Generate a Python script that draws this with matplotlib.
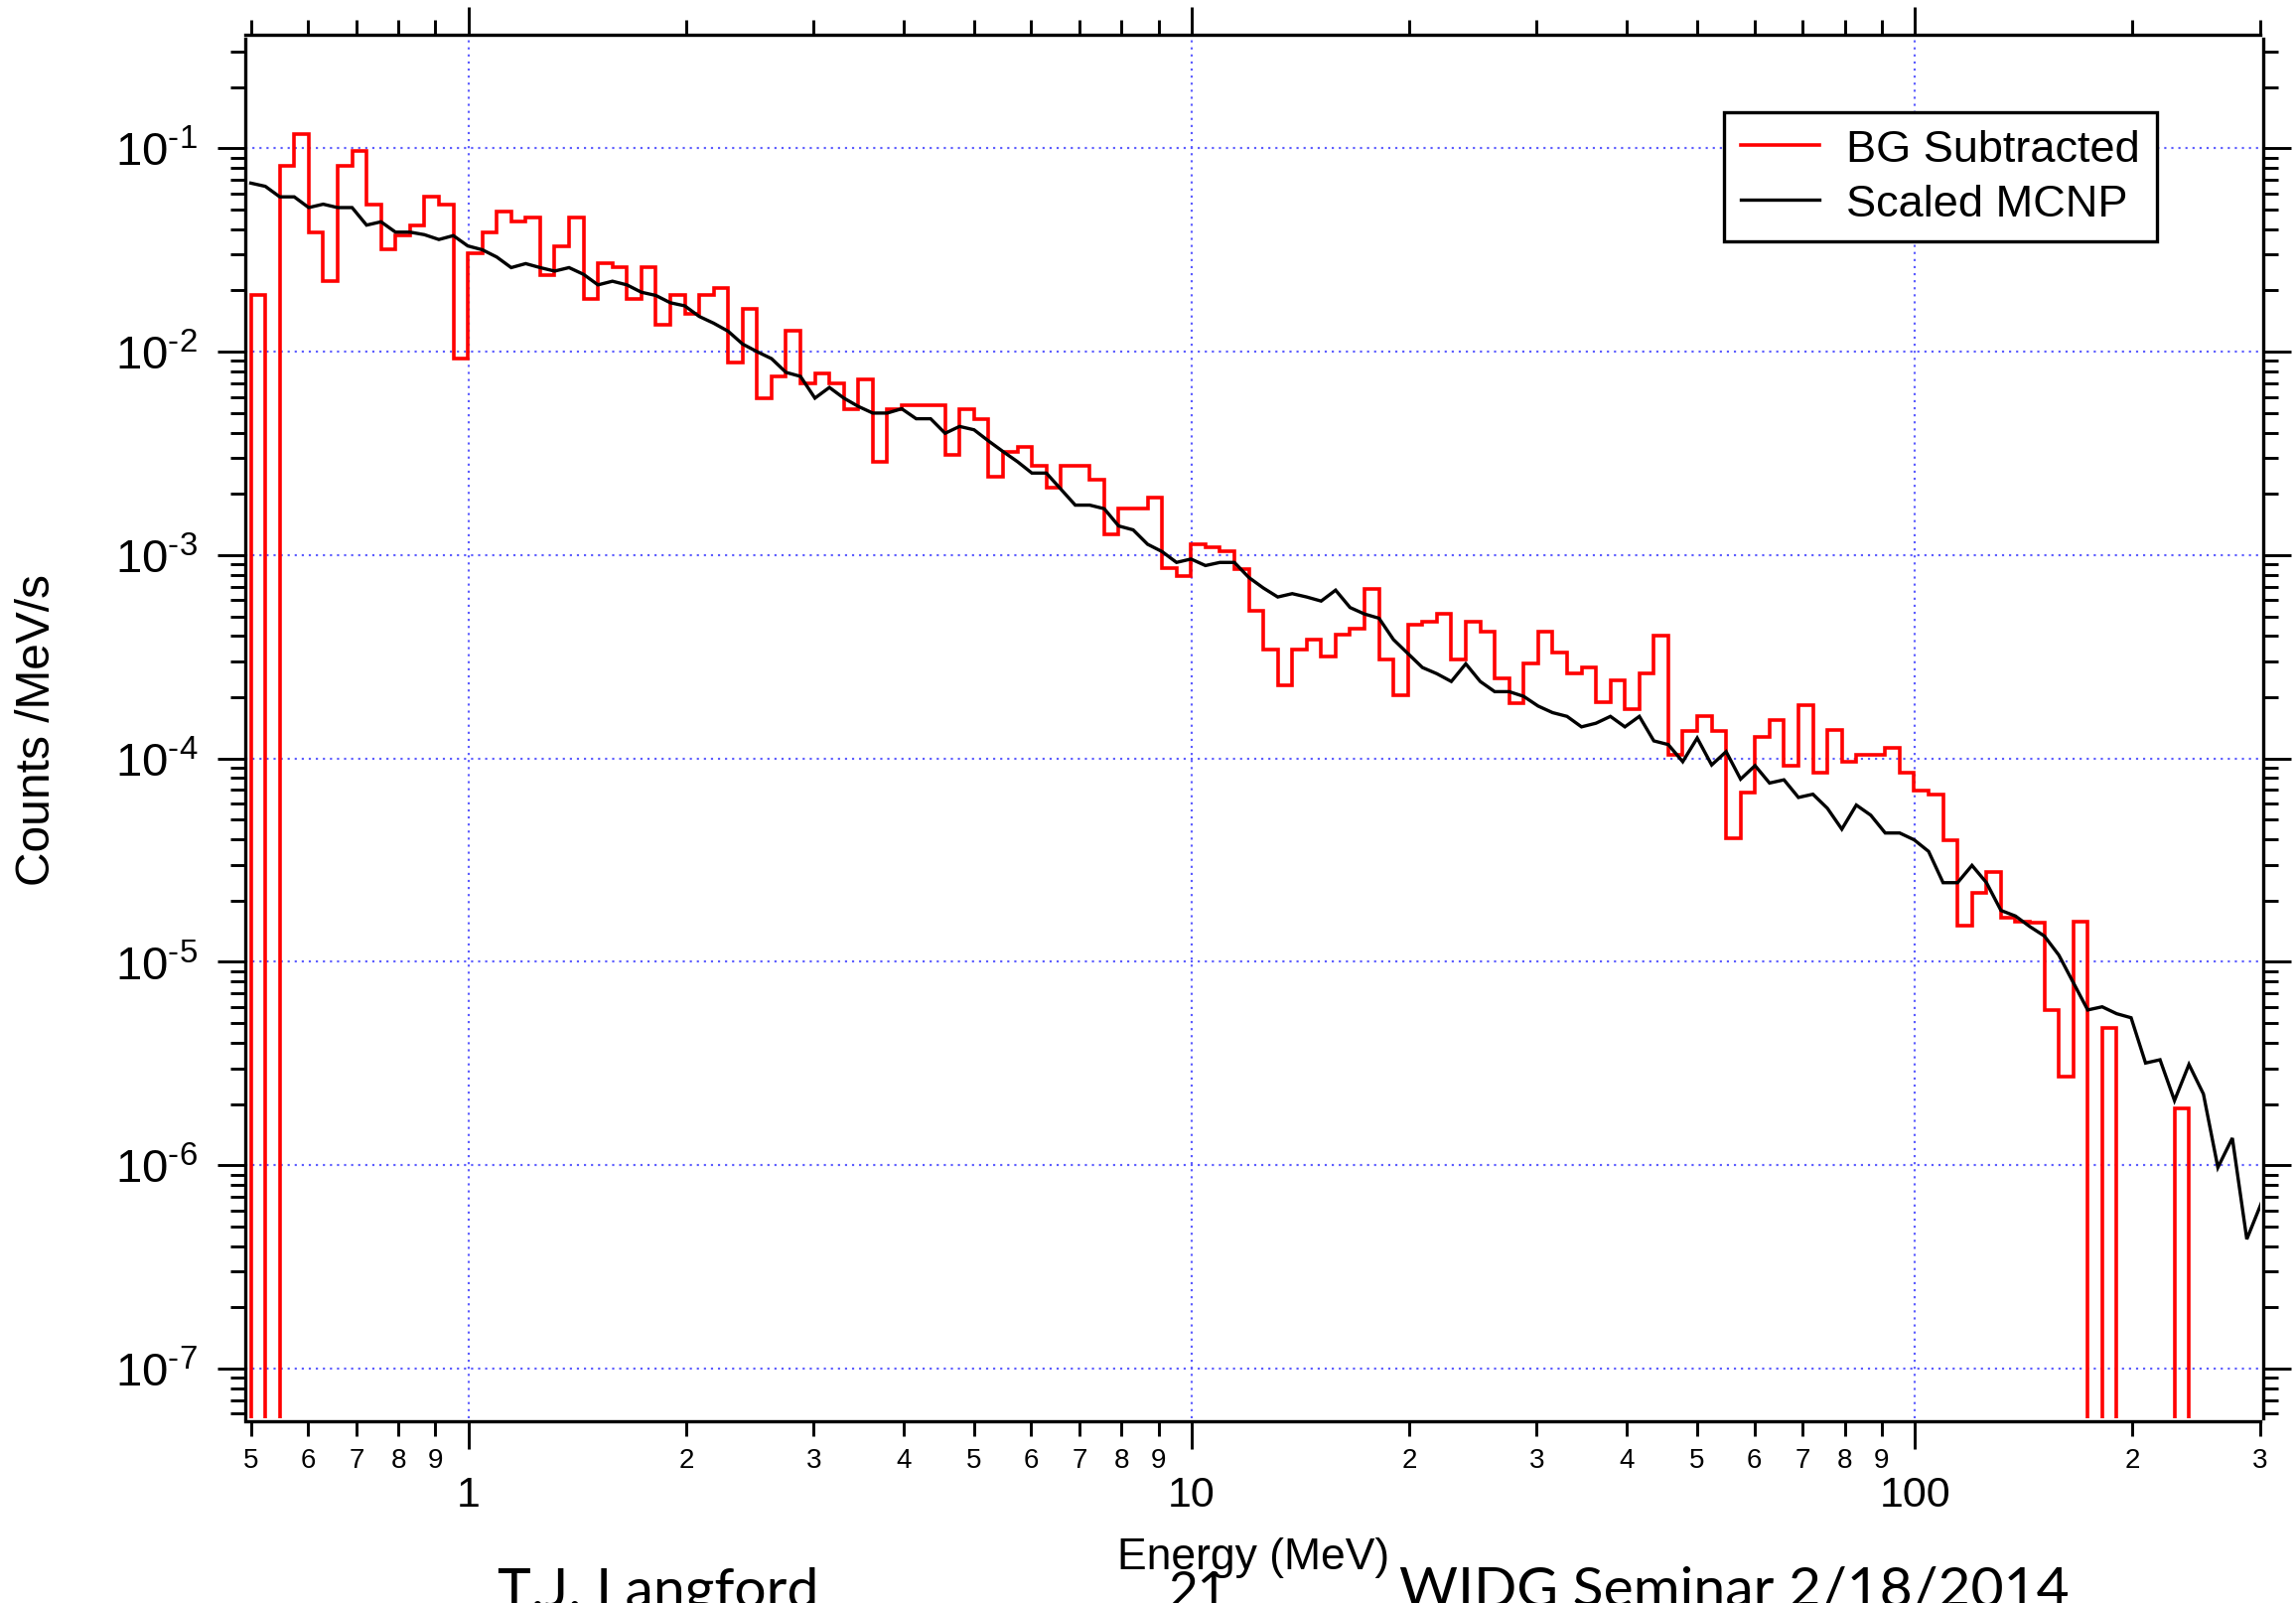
import numpy as np
import matplotlib
matplotlib.use("Agg")
import matplotlib.pyplot as plt
from matplotlib.lines import Line2D
from matplotlib.ticker import (LogLocator, FixedLocator, FuncFormatter,
                               NullFormatter)

plt.rcParams["font.family"] = ["Liberation Sans", "DejaVu Sans"]
plt.rcParams["mathtext.fontset"] = "custom"
plt.rcParams["mathtext.rm"] = "Liberation Sans"
plt.rcParams["mathtext.it"] = "Liberation Sans:italic"
plt.rcParams["mathtext.bf"] = "Liberation Sans:bold"

# Energy binning: logarithmic, 50 bins per decade starting at 0.5 MeV
E_START = 0.5
BINS_PER_DECADE = 50
N_BINS = 140

# Background-subtracted spectrum (counts / MeV / s); 0 = empty / negative bin
bg_subtracted = [
    0.0189, 0.0, 0.0821, 0.118, 0.0387, 0.0222, 0.0821, 0.097, 0.0531, 0.0318,
    0.0372, 0.0419, 0.0577, 0.0531, 0.0092, 0.0306, 0.0387, 0.0488, 0.0435, 0.0456,
    0.0239, 0.0331, 0.0456, 0.0182, 0.0271, 0.0259, 0.0182, 0.0259, 0.0136, 0.0189,
    0.0154, 0.0189, 0.0205, 0.00886, 0.0163, 0.0059, 0.00756, 0.01274, 0.00701, 0.00785,
    0.00701, 0.00524, 0.00728, 0.00286, 0.00524, 0.00544, 0.00544, 0.00544, 0.00311, 0.00524,
    0.00468, 0.00243, 0.00323, 0.00339, 0.00275, 0.00215, 0.00275, 0.00275, 0.00234, 0.00127,
    0.0017, 0.0017, 0.00192, 0.000862, 0.000791, 0.00113, 0.00109, 0.00105, 0.000855, 0.000531,
    0.000342, 0.000229, 0.000343, 0.000385, 0.000316, 0.000406, 0.000436, 0.000678, 0.000305, 0.000204,
    0.000455, 0.000471, 0.000513, 0.000305, 0.000472, 0.000418, 0.000248, 0.000188, 0.000294, 0.000418,
    0.000331, 0.000261, 0.000281, 0.000189, 0.000241, 0.000175, 0.000261, 0.000402, 0.000104, 0.000137,
    0.000161, 0.000137, 4.03e-05, 6.78e-05, 0.000128, 0.000155, 9.24e-05, 0.000183, 8.54e-05, 0.000138,
    9.64e-05, 0.000104, 0.000104, 0.000113, 8.54e-05, 6.95e-05, 6.67e-05, 3.98e-05, 1.51e-05, 2.18e-05,
    2.77e-05, 1.64e-05, 1.57e-05, 1.55e-05, 5.77e-06, 2.73e-06, 1.57e-05, 0.0, 4.71e-06, 0.0,
    0.0, 0.0, 0.0, 1.9e-06, 0.0, 0.0, 0.0, 0.0, 0.0, 0.0,
]

# Scaled MCNP simulation, sampled at the lower edge of each bin
scaled_mcnp = [
    0.0674, 0.065, 0.0577, 0.0577, 0.0511, 0.0531, 0.0511, 0.0511, 0.0419, 0.0435,
    0.0387, 0.0387, 0.0376, 0.0356, 0.0372, 0.0331, 0.0317, 0.0292, 0.0259, 0.0271,
    0.0259, 0.0249, 0.0259, 0.024, 0.0213, 0.0222, 0.0213, 0.0196, 0.0189, 0.0174,
    0.0168, 0.0149, 0.0138, 0.0126, 0.0109, 0.01, 0.00924, 0.00791, 0.00756, 0.00591,
    0.00667, 0.00591, 0.00538, 0.00499, 0.00499, 0.00524, 0.00468, 0.00468, 0.00397, 0.00429,
    0.00413, 0.00364, 0.00323, 0.00288, 0.00253, 0.00253, 0.00211, 0.00176, 0.00176, 0.00169,
    0.00139, 0.00133, 0.00113, 0.00104, 0.00092, 0.000956, 0.000888, 0.00092, 0.00092, 0.000776,
    0.000689, 0.000622, 0.000646, 0.000622, 0.000594, 0.000672, 0.000552, 0.000513, 0.000489, 0.000384,
    0.000328, 0.00028, 0.000261, 0.000239, 0.000292, 0.000239, 0.000213, 0.000213, 0.000202, 0.000181,
    0.000168, 0.000161, 0.000143, 0.000149, 0.000161, 0.000143, 0.000161, 0.000122, 0.000117, 9.64e-05,
    0.000126, 9.29e-05, 0.000108, 7.91e-05, 9.22e-05, 7.57e-05, 7.85e-05, 6.43e-05, 6.67e-05, 5.69e-05,
    4.49e-05, 5.9e-05, 5.26e-05, 4.3e-05, 4.3e-05, 3.98e-05, 3.49e-05, 2.45e-05, 2.45e-05, 2.98e-05,
    2.45e-05, 1.79e-05, 1.68e-05, 1.49e-05, 1.34e-05, 1.08e-05, 7.91e-06, 5.8e-06, 6.01e-06, 5.56e-06,
    5.31e-06, 3.18e-06, 3.3e-06, 2.08e-06, 3.13e-06, 2.24e-06, 9.75e-07, 1.36e-06, 4.33e-07, 6.5e-07,
]

series_labels = ["BG Subtracted", "Scaled MCNP"]
x_major_ticks = [1, 10, 100]

edges = E_START * 10 ** (np.arange(N_BINS + 1) / BINS_PER_DECADE)
bg = np.asarray(bg_subtracted)
mcnp = np.asarray(scaled_mcnp)

# empty bins drop off the bottom of the log axis
FLOOR = 1e-12
bg_draw = np.where(bg > 0, bg, FLOOR)

fig = plt.figure(figsize=(23.12, 16.15), dpi=100)
ax = fig.add_axes([0.10705, 0.11517, 0.87738, 0.86006])

ax.stairs(bg_draw, edges, baseline=FLOOR, color="#ff0000", linewidth=2.6,
          zorder=3)
ax.plot(edges[:-1], mcnp, color="black", linewidth=2.4, zorder=4,
        solid_joinstyle="miter")

ax.set_xscale("log")
ax.set_yscale("log")
ax.set_xlim(0.492, 300.3)
ax.set_ylim(5.7e-8, 0.3456)

# x ticks: decades labelled large, intermediate digits labelled small
ax.xaxis.set_major_locator(FixedLocator(x_major_ticks))
ax.xaxis.set_major_formatter(FuncFormatter(lambda v, p: f"{v:g}"))
ax.xaxis.set_minor_locator(LogLocator(base=10, subs=np.arange(2, 10), numticks=100))
ax.xaxis.set_minor_formatter(FuncFormatter(
    lambda v, p: str(int(round(v / 10 ** np.floor(np.log10(v) + 1e-9))))))

# y ticks: powers of ten
ax.yaxis.set_major_locator(LogLocator(base=10, numticks=20))
ax.yaxis.set_major_formatter(FuncFormatter(
    lambda v, p: r"$\mathregular{10^{\text{-}%d}}$" % abs(int(round(np.log10(v))))))
ax.yaxis.set_minor_locator(LogLocator(base=10, subs=np.arange(2, 10), numticks=100))
ax.yaxis.set_minor_formatter(NullFormatter())

ax.tick_params(which="both", direction="out", top=True, right=True,
               labeltop=False, labelright=False, width=2.1, color="black")
ax.tick_params(which="major", length=20)
ax.tick_params(which="minor", length=10.5)
ax.tick_params(axis="x", which="major", labelsize=31, pad=19)
ax.tick_params(axis="x", which="minor", labelsize=20, pad=8)
ax.tick_params(axis="y", which="major", labelsize=34, pad=15)

for side in ("left", "right", "top", "bottom"):
    ax.spines[side].set_linewidth(2.4)
ax.spines["top"].set_position(("outward", 2.9))
ax.spines["right"].set_position(("outward", 2.2))
ax.spines["bottom"].set_position(("outward", 2.2))

ax.grid(True, which="major", color="#5c5cff", linestyle=(0, (1.0, 2.3)),
        linewidth=1.55)
ax.set_axisbelow(True)

ax.set_ylabel("Counts /MeV/s", fontsize=34.5)
ax.yaxis.label.set_va("center")
ax.yaxis.set_label_coords(-0.1033, 0.5)
ax.set_xlabel("Energy (MeV)", fontsize=32)
ax.xaxis.label.set_va("baseline")
ax.xaxis.set_label_coords(0.5, -0.109)

handles = [Line2D([], [], color="#ff0000", linewidth=2.6),
           Line2D([], [], color="black", linewidth=2.4)]
leg = ax.legend(handles, series_labels, loc="upper left",
                bbox_to_anchor=(0.7338, 0.9467), borderaxespad=0,
                fontsize=32.5, frameon=True, fancybox=False, shadow=False,
                edgecolor="black", facecolor="white", framealpha=1,
                handlelength=1.75, handletextpad=0.6, borderpad=0.38,
                labelspacing=0.3)
leg.get_frame().set_linewidth(2.4)
leg.set_zorder(10)

# slide footer
footer_kw = dict(fontsize=41, family=["Lato", "DejaVu Sans"], va="baseline",
                 ha="left", color="black")
fig.text(501 / 2312, -0.0019, "T.J. Langford", **footer_kw)
fig.text(1177 / 2312, -0.0019, "21", **dict(footer_kw, fontsize=37))
fig.text(1409 / 2312, -0.0019, "WIDG Seminar 2/18/2014", **footer_kw)

fig.savefig("out.png", dpi=100)
